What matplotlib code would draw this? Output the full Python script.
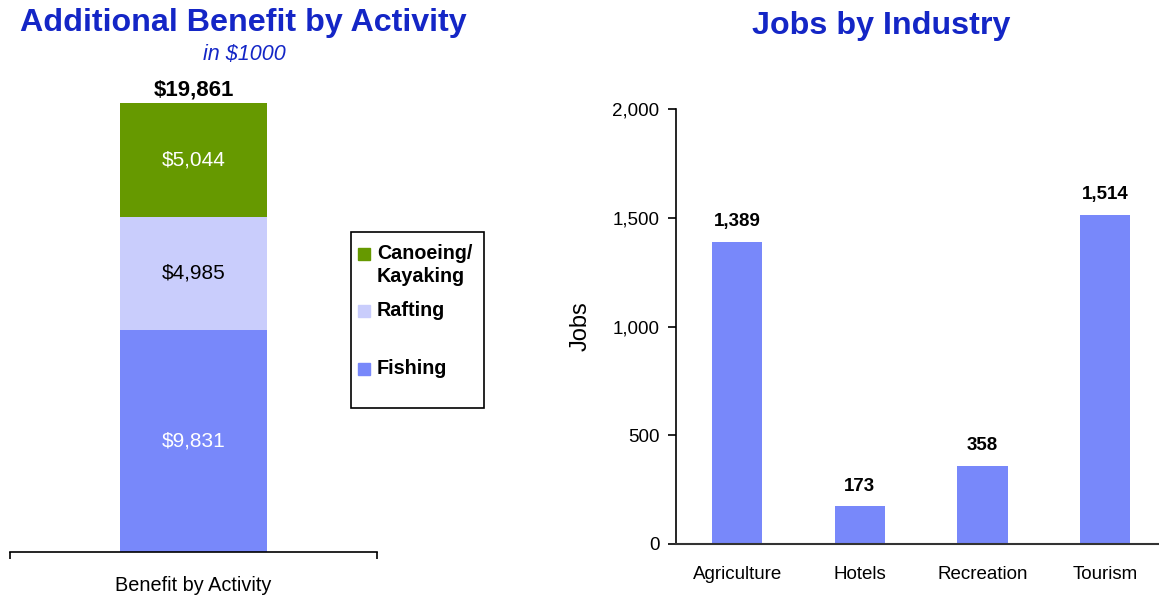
import matplotlib
matplotlib.use("Agg")
import matplotlib.pyplot as plt
from matplotlib.patches import Rectangle

plt.rcParams['font.family'] = ['Liberation Sans', 'DejaVu Sans']

# ---- data ----
activity_category = ["Benefit by Activity"]
activity_series = ["Fishing", "Rafting", "Canoeing/\nKayaking"]
activity_values = [9831, 4985, 5044]
activity_total = 19861
activity_colors = ["#7888FA", "#C9CDFC", "#669900"]

industries = ["Agriculture", "Hotels", "Recreation", "Tourism"]
jobs = [1389, 173, 358, 1514]
jobs_color = "#7888FA"
yticks = [0, 500, 1000, 1500, 2000]

title_color = "#1426C6"

fig = plt.figure(figsize=(11.59, 5.99), dpi=100)
W, H = 1159, 599

# ---- left chart ----
axL = fig.add_axes([10/W, 1-552/H, (377-10)/W, (552-103)/H])
bottom = 0
for name, val, col in zip(activity_series, activity_values, activity_colors):
    axL.bar([0], [val], width=0.403, bottom=bottom, color=col)
    axL.text(0, bottom + val/2, f"${val:,}", ha='center', va='center',
             color='black' if name == "Rafting" else 'white', fontsize=15)
    bottom += val
axL.annotate(f"${activity_total:,}", (0, activity_total), xytext=(0, 2),
             textcoords='offset points', ha='center', va='bottom',
             fontsize=16, fontweight='bold')
axL.set_xlim(-0.5, 0.5)
axL.set_ylim(0, activity_total)
for s in ['top', 'right', 'left']:
    axL.spines[s].set_visible(False)
axL.spines['bottom'].set_linewidth(1.2)
axL.set_yticks([])
axL.set_xticks([0])
axL.set_xticklabels(activity_category, fontsize=14.3)
axL.tick_params(axis='x', which='major', length=0, pad=17)
axL.set_xticks([-0.5, 0.5], minor=True)
axL.tick_params(axis='x', which='minor', length=5, width=1.2)

fig.text(243/W, 1-23/H, "Additional Benefit by Activity", ha='center', va='center',
         fontsize=23.2, fontweight='bold', color=title_color)
fig.text(244/W, 1-54/H, "in $1000", ha='center', va='center',
         fontsize=15.5, style='italic', color=title_color)

# legend box (manual)
fig.patches.append(Rectangle((351/W, 1-408/H), (484-351)/W, (408-232)/H,
                             transform=fig.transFigure, fill=False,
                             edgecolor='black', linewidth=1.2))
legend_rows = [("Canoeing/\nKayaking", 254), ("Rafting", 311), ("Fishing", 369)]
for label, y in legend_rows:
    col = activity_colors[activity_series.index(label)]
    fig.patches.append(Rectangle((358/W, 1-(y+6)/H), 12/W, 12/H,
                                 transform=fig.transFigure, color=col))
    fig.text(377/W, 1-(y-10)/H, label, ha='left', va='top', fontsize=14.2,
             fontweight='bold', linespacing=1.3)

# ---- right chart ----
axR = fig.add_axes([676/W, 1-544/H, (W-676)/W, (544-109)/H])
x = list(range(len(industries)))
axR.bar(x, jobs, width=0.41, color=jobs_color)
for xi, v in zip(x, jobs):
    axR.annotate(f"{v:,}", (xi, v), xytext=(0, 8.5), textcoords='offset points',
                 ha='center', va='bottom', fontsize=13.5, fontweight='bold')
axR.set_xlim(-0.5, 3.44)
axR.set_ylim(0, 2000)
axR.set_yticks(yticks)
axR.set_yticklabels([f"{t:,}" for t in yticks], fontsize=13.5)
axR.set_xticks(x)
axR.set_xticklabels(industries, fontsize=13.5)
axR.tick_params(axis='x', length=0, pad=16)
axR.tick_params(axis='y', length=6, width=1.2, pad=6)
for s in ['top', 'right']:
    axR.spines[s].set_visible(False)
axR.spines['left'].set_linewidth(1.2)
axR.spines['bottom'].set_linewidth(1.5)
axR.spines['bottom'].set_color('#333333')
axR.set_ylabel("Jobs", fontsize=17, labelpad=15)

fig.text(881/W, 1-26/H, "Jobs by Industry", ha='center', va='center',
         fontsize=23.2, fontweight='bold', color=title_color)

fig.savefig("out.png", dpi=100)
